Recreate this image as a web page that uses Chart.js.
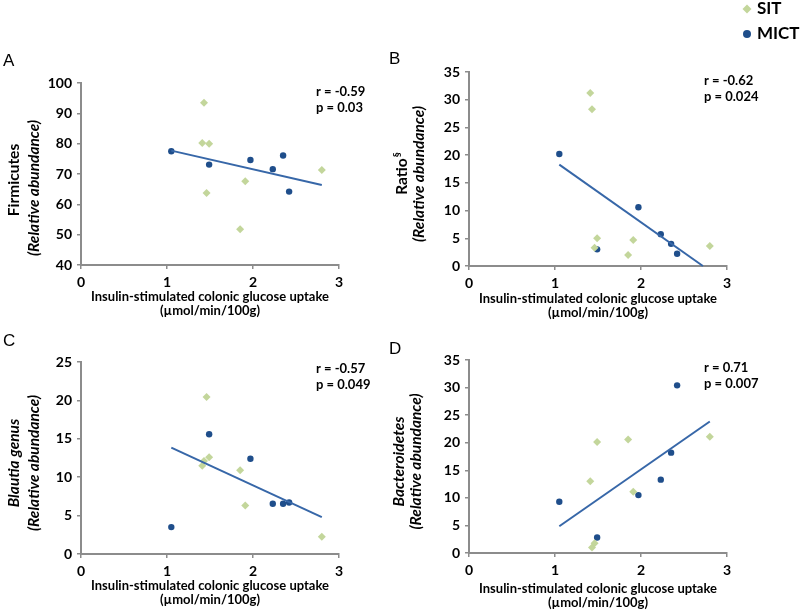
<!DOCTYPE html>
<html>
<head>
<meta charset="utf-8">
<script src="https://cdn.jsdelivr.net/npm/chart.js@4.4.1/dist/chart.umd.min.js"></script>
<style>
  body { margin: 0; background: #fff; }
  #wrap { position: relative; width: 800px; height: 612px; }
  canvas { position: absolute; }
</style>
</head>
<body>
<div id="wrap">
  <canvas id="cA" width="385" height="320" style="left:0;top:0;width:385px;height:320px"></canvas>
  <canvas id="cB" width="415" height="320" style="left:385px;top:0;width:415px;height:320px"></canvas>
  <canvas id="cC" width="385" height="292" style="left:0;top:320px;width:385px;height:292px"></canvas>
  <canvas id="cD" width="415" height="292" style="left:385px;top:320px;width:415px;height:292px"></canvas>
</div>
<script>
// insulin-stimulated colonic glucose uptake (x) for each subject
const sitX  = [1.41, 1.43, 1.46, 1.49, 1.85, 1.91, 2.80];
const mictX = [1.05, 1.49, 1.97, 2.23, 2.35, 2.42];

// A - Firmicutes
const firmSit  = [80.2, 93.5, 63.7, 80.0, 51.8, 67.6, 71.3];
const firmMict = [77.5, 73.1, 74.6, 71.6, 76.1, 64.2];
const firmTrendX = [1.05, 2.80];
const firmTrendY = [77.7, 66.4];
const firmTicks = [40, 100, 10];

// B - Ratio
const ratioSit  = [31.2, 28.3, 3.3, 5.0, 2.0, 4.7, 3.6];
const ratioMict = [20.2, 3.0, 10.6, 5.75, 4.0, 2.2];
const ratioTrendX = [1.05, 2.72];
const ratioTrendY = [18.3, 0];
const ratioTicks = [0, 35, 5];

// C - Blautia genus
const blautiaSit  = [11.5, 12.1, 20.45, 12.6, 10.9, 6.3, 2.25];
const blautiaMict = [3.5, 15.6, 12.4, 6.55, 6.55, 6.7];
const blautiaTrendX = [1.05, 2.80];
const blautiaTrendY = [13.86, 4.8];
const blautiaTicks = [0, 25, 5];

// D - Bacteroidetes
const bactSit  = [13.0, 1.0, 1.75, 20.15, 20.6, 11.1, 21.1];
const bactMict = [9.3, 2.8, 10.5, 13.3, 18.2, 30.4];
const bactTrendX = [1.05, 2.80];
const bactTrendY = [4.86, 23.85];
const bactTicks = [0, 35, 5];

const xTicks = [0, 3, 1];
const xTitle = ['Insulin-stimulated colonic glucose uptake', '(\u00b5mol/min/100g)'];
const rLabels = ['r = -0.59', 'r = -0.62', 'r = -0.57', 'r = 0.71'];
const pLabels = ['p = 0.03', 'p = 0.024', 'p = 0.049', 'p = 0.007'];
const legendLabels = ['SIT', 'MICT'];

const SIT_COL = '#c3d69b';
const MICT_COL = '#1f4e8b';
const TREND_COL = '#3767a8';
const AXIS_COL = '#8c8c8c';
const FONT = 'Lato, "Open Sans", sans-serif';

const pts = (xs, ys) => xs.map((x, i) => ({ x: x, y: ys[i] }));

function panelText(p) {
    return {
        id: 'panelText',
        afterDraw(chart) {
            const ctx = chart.ctx;
            const a = chart.chartArea;
            ctx.save();
            ctx.fillStyle = '#000';

            // panel letter
            ctx.font = '17px "Liberation Sans", Arial, sans-serif';
            ctx.textAlign = 'left';
            ctx.textBaseline = 'middle';
            ctx.fillText(p.letter, p.letterX, p.letterY);

            // r / p
            ctx.font = 'bold 13px ' + FONT;
            ctx.fillText(p.r, a.left + 235, a.top + p.statDy);
            ctx.fillText(p.p, a.left + 235, a.top + p.statDy + 16);

            // y title lines
            p.ytitle.forEach(t => {
                ctx.save();
                ctx.translate(a.left + t.dx, (a.top + a.bottom) / 2 + t.dy);
                ctx.rotate(-Math.PI / 2);
                const f = (t.italic ? 'italic ' : '') + 'bold 15.5px ' + FONT;
                ctx.font = f;
                const wm = ctx.measureText(t.text).width;
                let ws = 0;
                if (t.sup) {
                    ctx.font = 'bold 10px ' + FONT;
                    ws = ctx.measureText(t.sup).width;
                }
                const start = -(wm + ws) / 2;
                ctx.textAlign = 'left';
                ctx.font = f;
                ctx.fillText(t.text, start, 0);
                if (t.sup) {
                    ctx.font = 'bold 10px ' + FONT;
                    ctx.fillText(t.sup, start + wm + 1, -5);
                }
                ctx.restore();
            });

            // shared legend
            if (p.legend) {
                const lx = p.legend.x, ly = p.legend.y;
                ctx.fillStyle = SIT_COL;
                ctx.beginPath();
                ctx.moveTo(lx, ly - 4.5);
                ctx.lineTo(lx + 4.5, ly);
                ctx.lineTo(lx, ly + 4.5);
                ctx.lineTo(lx - 4.5, ly);
                ctx.closePath();
                ctx.fill();
                ctx.fillStyle = MICT_COL;
                ctx.beginPath();
                ctx.arc(lx, ly + 25, 4, 0, Math.PI * 2);
                ctx.fill();
                ctx.fillStyle = '#000';
                ctx.font = 'bold 17px ' + FONT;
                ctx.fillText(legendLabels[0], lx + 10, ly);
                ctx.fillText(legendLabels[1], lx + 10, ly + 25);
            }
            ctx.restore();
        }
    };
}

function makePanel(id, sit, mict, tx, ty, yt, geo, text) {
    new Chart(document.getElementById(id), {
        type: 'scatter',
        data: {
            datasets: [
                {
                    type: 'line',
                    data: pts(tx, ty),
                    borderColor: TREND_COL,
                    borderWidth: 2,
                    pointRadius: 0,
                    fill: false,
                    clip: false
                },
                {
                    label: 'SIT',
                    data: pts(sitX, sit),
                    pointStyle: 'rectRot',
                    pointRadius: 4,
                    backgroundColor: SIT_COL,
                    borderWidth: 0,
                    clip: false
                },
                {
                    label: 'MICT',
                    data: pts(mictX, mict),
                    pointStyle: 'circle',
                    pointRadius: 3.2,
                    backgroundColor: MICT_COL,
                    borderWidth: 0,
                    clip: false
                }
            ]
        },
        options: {
            responsive: false,
            animation: false,
            layout: { padding: { left: 0, top: geo.top, right: geo.right, bottom: geo.bottom } },
            plugins: { legend: { display: false }, tooltip: { enabled: false } },
            scales: {
                x: {
                    type: 'linear',
                    min: xTicks[0], max: xTicks[1],
                    ticks: { stepSize: xTicks[2], padding: 5, color: '#000', font: { family: FONT, size: 14, weight: 'bold' } },
                    grid: { drawOnChartArea: false, drawTicks: true, tickLength: 4, color: AXIS_COL, lineWidth: 1.5 },
                    border: { color: AXIS_COL, width: 2 },
                    title: { display: true, text: xTitle, color: '#000', padding: 0,
                             font: { family: FONT, size: 13, weight: 'bold', lineHeight: 1.1 } },
                    afterFit: s => { s.height = geo.xh; }
                },
                y: {
                    min: yt[0], max: yt[1],
                    ticks: { stepSize: yt[2], padding: 5, color: '#000', font: { family: FONT, size: 14, weight: 'bold' } },
                    grid: { drawOnChartArea: false, drawTicks: true, tickLength: 4, color: AXIS_COL, lineWidth: 1.5 },
                    border: { color: AXIS_COL, width: 2 },
                    afterFit: s => { s.width = geo.yw; }
                }
            }
        },
        plugins: [panelText(text)]
    });
}

makePanel('cA', firmSit, firmMict, firmTrendX, firmTrendY, firmTicks,
    { top: 83, right: 46, bottom: 2, xh: 53, yw: 81 },
    { letter: 'A', letterX: 3, letterY: 61, r: rLabels[0], p: pLabels[0], statDy: 9,
      ytitle: [{ text: 'Firmicutes', dx: -67, dy: 6 }, { text: '(Relative abundance)', italic: true, dx: -47, dy: 14 }] });

makePanel('cB', ratioSit, ratioMict, ratioTrendX, ratioTrendY, ratioTicks,
    { top: 72, right: 73, bottom: 0, xh: 54, yw: 84 },
    { letter: 'B', letterX: 4, letterY: 59, r: rLabels[1], p: pLabels[1], statDy: 9,
      legend: { x: 362, y: 9 },
      ytitle: [{ text: 'Ratio', sup: '\u00a7', dx: -67, dy: 5 }, { text: '(Relative abundance)', italic: true, dx: -50, dy: 5 }] });

makePanel('cC', blautiaSit, blautiaMict, blautiaTrendX, blautiaTrendY, blautiaTicks,
    { top: 42, right: 46, bottom: 5, xh: 53, yw: 81 },
    { letter: 'C', letterX: 3, letterY: 21, r: rLabels[2], p: pLabels[2], statDy: 7,
      ytitle: [{ text: 'Blautia genus', italic: true, dx: -67, dy: 5 }, { text: '(Relative abundance)', italic: true, dx: -47, dy: 5 }] });

makePanel('cD', bactSit, bactMict, bactTrendX, bactTrendY, bactTicks,
    { top: 40, right: 73, bottom: 2, xh: 57, yw: 84 },
    { letter: 'D', letterX: 4, letterY: 29, r: rLabels[3], p: pLabels[3], statDy: 8,
      ytitle: [{ text: 'Bacteroidetes', italic: true, dx: -70, dy: 5 }, { text: '(Relative abundance)', italic: true, dx: -53, dy: 5 }] });
</script>
</body>
</html>
